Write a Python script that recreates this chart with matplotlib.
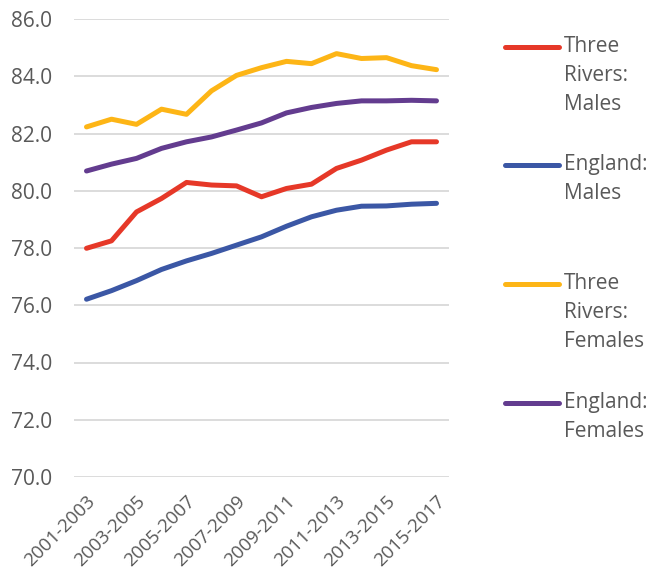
import matplotlib.pyplot as plt
import numpy as np
from matplotlib.lines import Line2D

plt.rcParams['font.family'] = ['Open Sans', 'DejaVu Sans']

# Data: life expectancy at birth, three-year rolling periods
periods = ["2001-2003", "2002-2004", "2003-2005", "2004-2006", "2005-2007",
           "2006-2008", "2007-2009", "2008-2010", "2009-2011", "2010-2012",
           "2011-2013", "2012-2014", "2013-2015", "2014-2016", "2015-2017"]
tr_males = [77.99, 78.25, 79.26, 79.73, 80.29, 80.20, 80.17, 79.79,
            80.08, 80.23, 80.78, 81.07, 81.42, 81.71, 81.71]
eng_males = [76.21, 76.51, 76.86, 77.25, 77.55, 77.81, 78.10, 78.39,
             78.76, 79.09, 79.32, 79.46, 79.47, 79.53, 79.56]
tr_females = [82.23, 82.50, 82.32, 82.85, 82.67, 83.49, 84.03, 84.30,
              84.52, 84.44, 84.79, 84.62, 84.65, 84.37, 84.23]
eng_females = [80.69, 80.93, 81.13, 81.48, 81.71, 81.88, 82.12, 82.37,
               82.72, 82.91, 83.05, 83.14, 83.14, 83.16, 83.14]

labels = ["Three\nRivers:\nMales", "England:\nMales",
          "Three\nRivers:\nFemales", "England:\nFemales"]
colors = ["#E63828", "#3B57A5", "#FDB516", "#633C8F"]
series = [tr_males, eng_males, tr_females, eng_females]

text_col = "#595959"

fig = plt.figure(figsize=(6.48, 5.82), dpi=100)
ax = fig.add_axes([74 / 648, 1 - 477 / 582, 375 / 648, 458 / 582])

x = np.arange(len(periods))
for vals, col in zip(series, colors):
    ax.plot(x, vals, color=col, lw=3.6, solid_capstyle='round',
            solid_joinstyle='round', zorder=3)

ax.set_xlim(-0.5, len(periods) - 0.5)
ax.set_ylim(70, 86)
ax.set_yticks(np.arange(70, 86.1, 2))
ax.set_yticklabels([f"{v:.1f}" for v in np.arange(70, 86.1, 2)])
ax.set_xticks(x[::2])
ax.set_xticklabels(periods[::2], rotation=45, ha='right', va='top',
                   rotation_mode='anchor')
ax.tick_params(axis='both', length=0, labelsize=15, colors=text_col)
ax.tick_params(axis='x', labelsize=13.5, pad=11)
ax.tick_params(axis='y', pad=16)
ax.grid(axis='y', color='#D9D9D9', lw=1.3)
ax.set_axisbelow(True)
for s in ax.spines.values():
    s.set_visible(False)

# Legend drawn in figure pixels so each entry gets an equal slot
W, H = 648, 582
for i, (lab, col) in enumerate(zip(labels, colors)):
    y = 46.7 + i * 118.7
    fig.add_artist(Line2D([505 / W, 559 / W], [1 - y / H, 1 - y / H],
                          color=col, lw=3.6, solid_capstyle='round'))
    fig.text(564 / W, 1 - (y - 11) / H, lab, fontsize=15, color=text_col,
             ha='left', va='top', linespacing=1.5)

fig.savefig("out.png", dpi=100)
